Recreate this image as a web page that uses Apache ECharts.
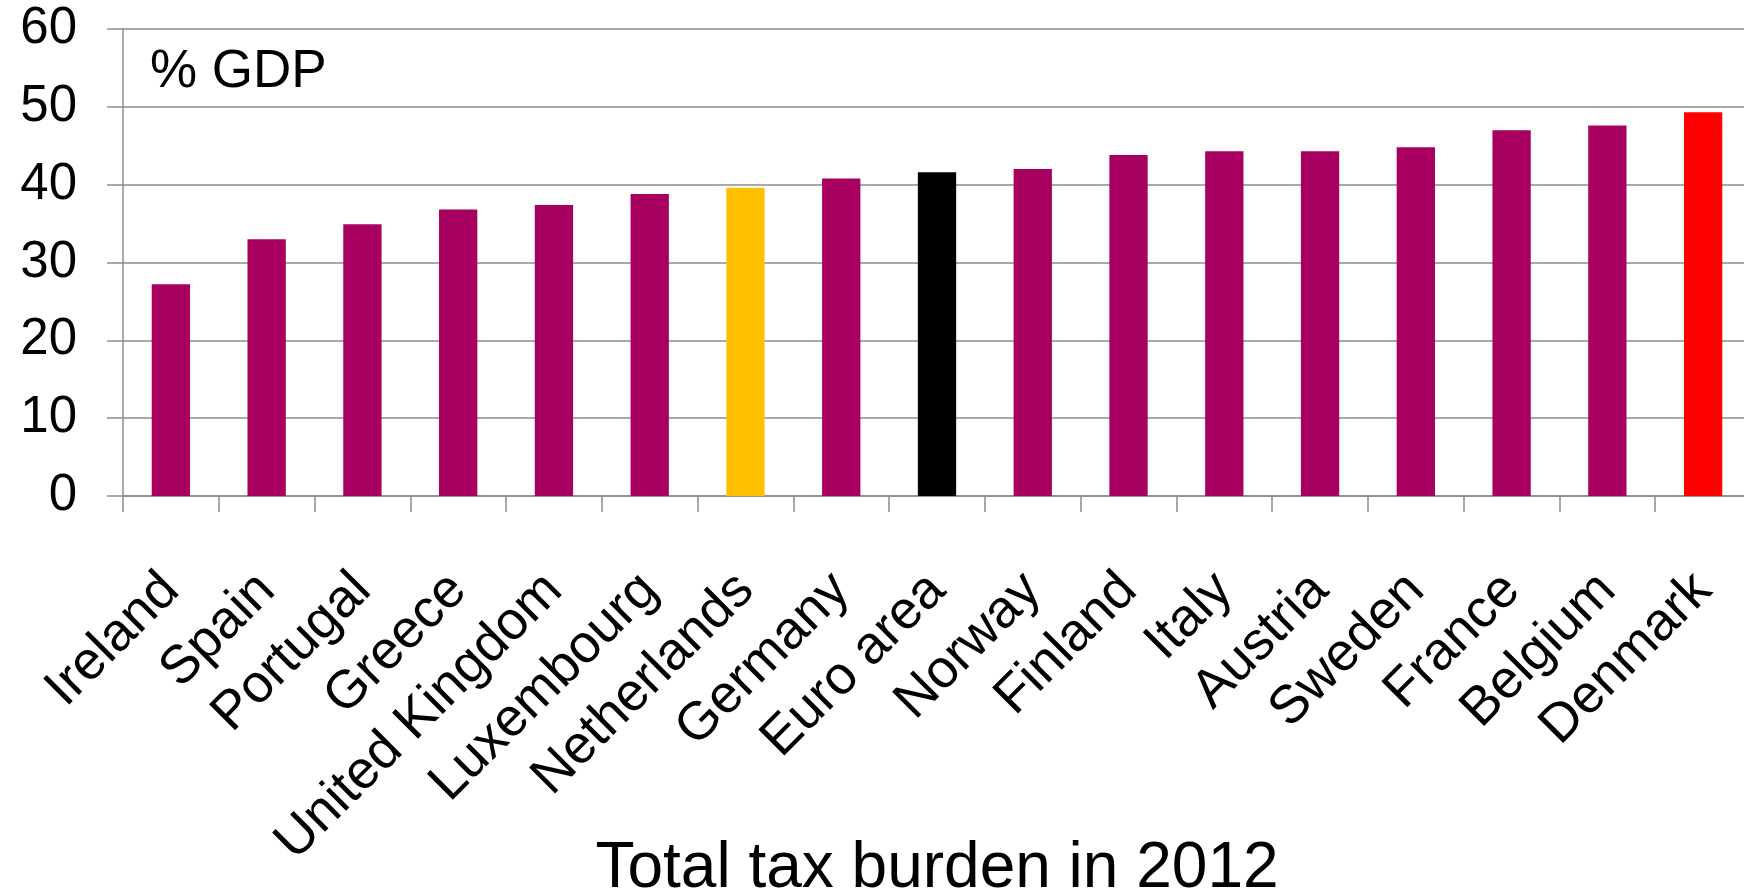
<!DOCTYPE html>
<html>
<head>
<meta charset="utf-8">
<script src="https://cdn.jsdelivr.net/npm/echarts@6/dist/echarts.min.js"></script>
<style>
html,body{margin:0;padding:0;background:#fff;}
#chart{width:1744px;height:894px;}
</style>
</head>
<body>
<div id="chart"></div>
<script>
const categories = ['Ireland','Spain','Portugal','Greece','United Kingdom','Luxembourg','Netherlands','Germany','Euro area','Norway','Finland','Italy','Austria','Sweden','France','Belgium','Denmark'];
const values = [27.2, 33.0, 34.9, 36.8, 37.4, 38.8, 39.6, 40.8, 41.6, 42.0, 43.8, 44.3, 44.3, 44.8, 47.0, 47.6, 49.3];
const yTicks = [0, 10, 20, 30, 40, 50, 60];
const unitLabel = '% GDP';
const xTitle = 'Total tax burden in 2012';

const baseColor = '#A80060';
const specialColors = { 'Netherlands': '#FFC000', 'Euro area': '#000000', 'Denmark': '#FF0000' };
const FONT = '"Liberation Sans", Arial, sans-serif';
const GRAY = '#8c8c8c';

const chart = echarts.init(document.getElementById('chart'), null, {renderer: 'canvas'});
chart.setOption({
  animation: false,
  backgroundColor: '#ffffff',
  grid: { left: 123, top: 29, width: 1628, height: 467, containLabel: false, outerBoundsMode: 'none' },
  graphic: [{
    type: 'text', left: 150, top: 46,
    style: { text: unitLabel, font: '53px ' + FONT, fill: '#000' }
  }],
  xAxis: {
    type: 'category',
    data: categories,
    boundaryGap: true,
    name: xTitle,
    nameLocation: 'middle',
    nameGap: 341,
    nameMoveOverlap: false,
    nameTextStyle: { fontSize: 64, fontFamily: FONT, color: '#000' },
    axisLine: { show: true, lineStyle: { color: GRAY, width: 1.5 } },
    axisTick: { show: true, length: 16, lineStyle: { color: GRAY, width: 1.5 } },
    axisLabel: {
      rotate: 45, margin: 86, interval: 0,
      fontSize: 53.5, fontFamily: FONT, color: '#000',
      padding: [0, 0, 58, 0]
    },
    splitLine: { show: false }
  },
  yAxis: {
    type: 'value',
    min: yTicks[0], max: yTicks[yTicks.length - 1], interval: yTicks[1] - yTicks[0],
    axisLine: { show: true, lineStyle: { color: GRAY, width: 1.5 } },
    axisTick: { show: true, length: 16, lineStyle: { color: GRAY, width: 1.5 } },
    axisLabel: { margin: 46, fontSize: 51, fontFamily: FONT, color: '#000' },
    splitLine: { show: true, lineStyle: { color: GRAY, width: 1.5 } }
  },
  series: [{
    type: 'bar',
    barCategoryGap: '60%',
    data: values.map((v, i) => ({
      value: v,
      itemStyle: { color: specialColors[categories[i]] || baseColor }
    }))
  }]
});
</script>
</body>
</html>
